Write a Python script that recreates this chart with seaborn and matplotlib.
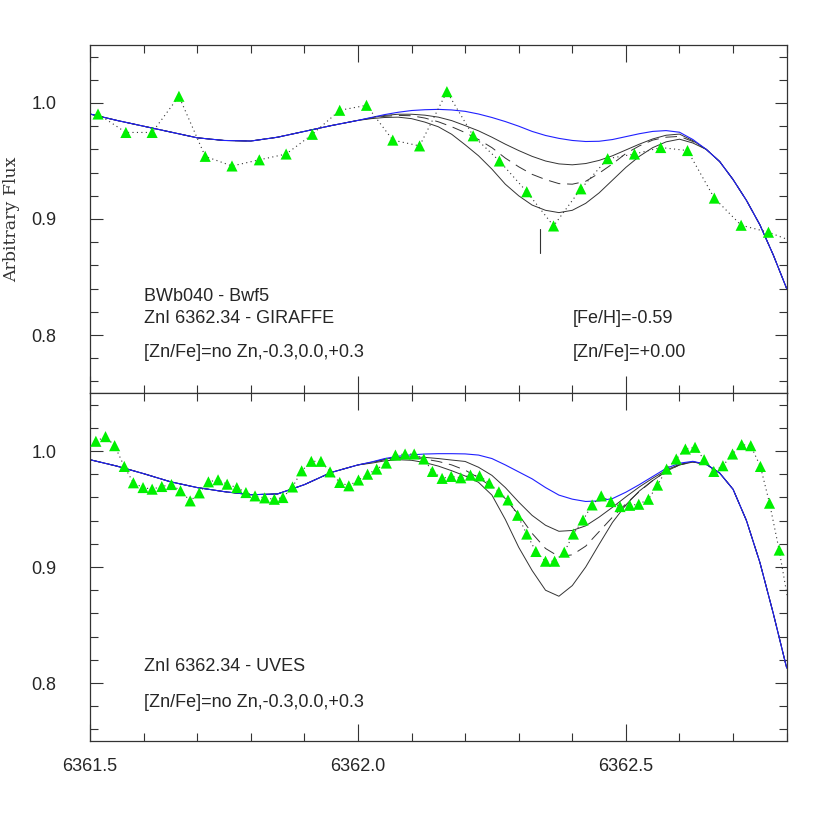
import matplotlib
matplotlib.use("Agg")
import matplotlib.pyplot as plt
import seaborn as sns
from matplotlib.ticker import MultipleLocator, FormatStrFormatter

# ---- data ----
# wavelength grids for the synthetic spectra
x_left = [6361.50, 6361.55, 6361.60, 6361.65, 6361.70, 6361.75, 6361.80, 6361.85, 6361.90, 6361.95]
x_mid = [6362.000, 6362.025, 6362.050, 6362.075, 6362.100, 6362.125, 6362.150, 6362.175, 6362.200,
         6362.225, 6362.250, 6362.275, 6362.300, 6362.325, 6362.350, 6362.375, 6362.400, 6362.425,
         6362.450, 6362.475, 6362.500, 6362.525, 6362.550, 6362.575, 6362.600, 6362.625, 6362.650]
x_tail = [6362.675, 6362.700, 6362.725, 6362.750, 6362.775, 6362.800]

# top panel (GIRAFFE)
gir_nozn_left = [0.9905, 0.985, 0.980, 0.975, 0.970, 0.9677, 0.9672, 0.9705, 0.9755, 0.9805]
gir_nozn_mid = [0.985, 0.9875, 0.990, 0.992, 0.9935, 0.9942, 0.9945, 0.9940, 0.9928, 0.9905, 0.9875,
                0.984, 0.980, 0.9755, 0.9720, 0.9695, 0.9677, 0.9668, 0.9670, 0.9685, 0.9710, 0.9735,
                0.9755, 0.9762, 0.9748, 0.9685, 0.960]
gir_nozn_tail = [0.9495, 0.934, 0.916, 0.895, 0.869, 0.840]
gir_m03 = [0.985, 0.9873, 0.9893, 0.9903, 0.9903, 0.9895, 0.9878, 0.9848, 0.9805, 0.9760, 0.9705,
           0.9645, 0.9590, 0.9540, 0.9500, 0.9475, 0.9467, 0.9478, 0.9505, 0.9545, 0.9595, 0.9645,
           0.9690, 0.9722, 0.9732, 0.9675, 0.9600]
gir_z00 = [0.985, 0.987, 0.9885, 0.9893, 0.9890, 0.9870, 0.9838, 0.9795, 0.9745, 0.9685, 0.9615,
           0.9525, 0.9450, 0.9385, 0.9340, 0.9305, 0.9300, 0.9325, 0.9395, 0.9475, 0.9565, 0.9630,
           0.9680, 0.9705, 0.9712, 0.9668, 0.9600]
gir_p03 = [0.985, 0.9865, 0.9875, 0.9878, 0.9865, 0.9835, 0.9795, 0.9730, 0.9640, 0.9545, 0.9430,
           0.9300, 0.9200, 0.9120, 0.9075, 0.9055, 0.9075, 0.9135, 0.9225, 0.9335, 0.9445, 0.9540,
           0.9615, 0.9665, 0.9688, 0.9655, 0.9600]
gir_obs_x = [6361.515, 6361.567, 6361.616, 6361.666, 6361.715, 6361.765, 6361.816, 6361.866,
             6361.915, 6361.966, 6362.016, 6362.065, 6362.115, 6362.166, 6362.215, 6362.264,
             6362.315, 6362.365, 6362.416, 6362.466, 6362.516, 6362.565, 6362.615, 6362.665,
             6362.715, 6362.766, 6362.815]
gir_obs_y = [0.9905, 0.9746, 0.9746, 1.0058, 0.954, 0.9457, 0.951, 0.956, 0.973, 0.9937, 0.998,
             0.968, 0.963, 1.0098, 0.9717, 0.950, 0.9235, 0.894, 0.926, 0.952, 0.956, 0.9616,
             0.959, 0.918, 0.8946, 0.8886, 0.880]
line_mark_x = [6362.34, 6362.34]
line_mark_y = [0.871, 0.891]

# bottom panel (UVES)
uv_nozn_left = [0.9925, 0.9870, 0.9805, 0.9735, 0.9685, 0.9650, 0.9623, 0.9630, 0.9710, 0.9815]
uv_nozn_mid = [0.9880, 0.9905, 0.9935, 0.9955, 0.9967, 0.9974, 0.9977, 0.9977, 0.9975, 0.9965,
               0.9935, 0.9880, 0.9820, 0.9760, 0.9685, 0.9620, 0.9585, 0.9565, 0.9570, 0.9590,
               0.9645, 0.9710, 0.9780, 0.9850, 0.9895, 0.9911, 0.9885]
uv_nozn_tail = [0.9810, 0.9670, 0.9400, 0.9040, 0.8600, 0.8130]
uv_m03 = [0.9880, 0.9903, 0.9930, 0.9945, 0.9950, 0.9945, 0.9935, 0.9922, 0.9910, 0.9860, 0.9790,
          0.9685, 0.9560, 0.9445, 0.9360, 0.9308, 0.9315, 0.9355, 0.9430, 0.9515, 0.9605, 0.9690,
          0.9765, 0.9835, 0.9885, 0.9908, 0.9885]
uv_z00 = [0.9880, 0.9900, 0.9925, 0.9938, 0.9940, 0.9930, 0.9910, 0.9880, 0.9835, 0.9770, 0.9690,
          0.9590, 0.9450, 0.9290, 0.9160, 0.9090, 0.9105, 0.9180, 0.9305, 0.9430, 0.9545, 0.9650,
          0.9745, 0.9825, 0.9880, 0.9906, 0.9885]
uv_p03 = [0.9880, 0.9895, 0.9915, 0.9925, 0.9920, 0.9900, 0.9870, 0.9830, 0.9785, 0.9730, 0.9620,
          0.9410, 0.9170, 0.8970, 0.8800, 0.8748, 0.8840, 0.9000, 0.9195, 0.9385, 0.9535, 0.9655,
          0.9745, 0.9825, 0.9880, 0.9905, 0.9885]
uv_obs_x = [6361.511, 6361.529, 6361.546, 6361.564, 6361.581, 6361.599, 6361.616, 6361.634,
            6361.652, 6361.669, 6361.687, 6361.704, 6361.721, 6361.739, 6361.756, 6361.774,
            6361.791, 6361.808, 6361.826, 6361.844, 6361.860, 6361.878, 6361.895, 6361.913,
            6361.931, 6361.948, 6361.966, 6361.983, 6362.001, 6362.018, 6362.035, 6362.053,
            6362.070, 6362.088, 6362.105, 6362.123, 6362.139, 6362.157, 6362.174, 6362.192,
            6362.210, 6362.227, 6362.245, 6362.263, 6362.280, 6362.298, 6362.315, 6362.332,
            6362.350, 6362.367, 6362.385, 6362.402, 6362.420, 6362.437, 6362.454, 6362.472,
            6362.489, 6362.507, 6362.524, 6362.542, 6362.559, 6362.576, 6362.594, 6362.611,
            6362.629, 6362.646, 6362.664, 6362.681, 6362.699, 6362.716, 6362.733, 6362.751,
            6362.768, 6362.786, 6362.815]
uv_obs_y = [1.0084, 1.0124, 1.0046, 0.9867, 0.9726, 0.9685, 0.9671, 0.9694, 0.9711, 0.9657,
            0.9570, 0.9639, 0.9734, 0.9752, 0.9714, 0.9685, 0.9642, 0.9613, 0.9596, 0.9584,
            0.9599, 0.9690, 0.9829, 0.9911, 0.9911, 0.9820, 0.9729, 0.9700, 0.9750, 0.9800,
            0.9844, 0.9896, 0.9965, 0.9974, 0.9974, 0.9931, 0.9824, 0.9764, 0.9781, 0.9769,
            0.9792, 0.9786, 0.9723, 0.9648, 0.9578, 0.9446, 0.9284, 0.9134, 0.9050, 0.9050,
            0.9128, 0.9284, 0.9405, 0.9535, 0.9613, 0.9564, 0.9521, 0.9532, 0.9541, 0.9584,
            0.9706, 0.9844, 0.9931, 1.0017, 1.0032, 0.9925, 0.9824, 0.9873, 0.9974, 1.0055,
            1.0046, 0.9867, 0.9550, 0.9146, 0.8380]

x_ticks = [6361.5, 6362.0, 6362.5]
y_ticks = [0.8, 0.9, 1.0]

sns.set_style("ticks")
plt.rcParams['font.family'] = ['Liberation Sans', 'DejaVu Sans']

fig = plt.figure(figsize=(8.3, 8.3), dpi=100)
ax1 = fig.add_axes([0.1084, 0.5265, 0.8394, 0.4193])
ax2 = fig.add_axes([0.1084, 0.1072, 0.8394, 0.4193])

x_full = x_left + x_mid + x_tail


def draw_panel(ax, nozn_l, nozn_m, nozn_t, m03, z00, p03, obs_x, obs_y):
    black = "#333333"
    for ys, ls in [(m03, "-"), (z00, (0, (12, 7))), (p03, "-")]:
        sns.lineplot(x=x_full, y=nozn_l + ys + nozn_t, ax=ax, color=black, linewidth=0.7,
                     linestyle=ls, sort=False, estimator=None)
    sns.lineplot(x=x_full, y=nozn_l + nozn_m + nozn_t, ax=ax, color="#2020ff", linewidth=0.8,
                 sort=False, estimator=None)
    sns.lineplot(x=obs_x, y=obs_y, ax=ax, color="#333333", linewidth=0.8,
                 linestyle=(0, (1, 3)), sort=False, estimator=None)
    sns.scatterplot(x=obs_x, y=obs_y, ax=ax, marker="^", s=64, color="#00f000",
                    edgecolor="none", zorder=5)

    ax.set_xlim(6361.5, 6362.8)
    ax.set_ylim(0.75, 1.05)
    ax.set_xticks(x_ticks)
    ax.set_yticks(y_ticks)
    ax.xaxis.set_minor_locator(MultipleLocator(0.1))
    ax.yaxis.set_minor_locator(MultipleLocator(0.02))
    ax.xaxis.set_major_formatter(FormatStrFormatter('%.1f'))
    ax.yaxis.set_major_formatter(FormatStrFormatter('%.1f'))
    ax.tick_params(which="both", direction="in", top=True, right=True, color="#333333",
                   width=0.8, labelsize=13)
    ax.tick_params(axis="x", which="major", length=12, pad=12)
    ax.tick_params(axis="y", which="major", length=9, pad=24)
    ax.tick_params(which="minor", length=6)
    for sp in ax.spines.values():
        sp.set_color("#333333")
        sp.set_linewidth(0.9)
    ax.set_xlabel("")
    ax.set_ylabel("")


draw_panel(ax1, gir_nozn_left, gir_nozn_mid, gir_nozn_tail, gir_m03, gir_z00, gir_p03,
           gir_obs_x, gir_obs_y)
sns.lineplot(x=line_mark_x, y=line_mark_y, ax=ax1, color="#333333", linewidth=0.8,
             sort=False, estimator=None)
ax1.tick_params(labelbottom=False)

draw_panel(ax2, uv_nozn_left, uv_nozn_mid, uv_nozn_tail, uv_m03, uv_z00, uv_p03,
           uv_obs_x, uv_obs_y)

fs = 13
ax1.text(6361.601, 0.8297, "BWb040 - Bwf5", fontsize=fs, va="baseline")
ax1.text(6361.601, 0.8101, "ZnI 6362.34 - GIRAFFE", fontsize=fs, va="baseline")
ax1.text(6361.601, 0.7812, "[Zn/Fe]=no Zn,-0.3,0.0,+0.3", fontsize=fs, va="baseline")
ax1.text(6362.4016, 0.8101, "[Fe/H]=-0.59", fontsize=fs, va="baseline")
ax1.text(6362.4016, 0.7810, "[Zn/Fe]=+0.00", fontsize=fs, va="baseline")
ax2.text(6361.601, 0.8104, "ZnI 6362.34 - UVES", fontsize=fs, va="baseline")
ax2.text(6361.601, 0.7795, "[Zn/Fe]=no Zn,-0.3,0.0,+0.3", fontsize=fs, va="baseline")

fig.text(0.0145, 0.736, "Arbitrary Flux", rotation=90, ha="center", va="center",
         fontsize=12.5, family="DejaVu Serif", color="#333333")

fig.savefig("out.png", dpi=100)
